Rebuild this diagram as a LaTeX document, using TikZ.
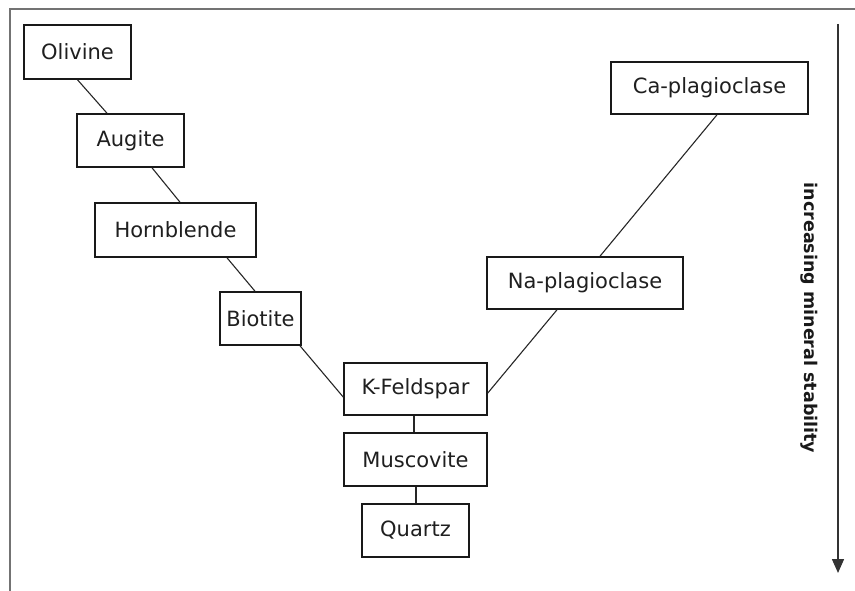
\documentclass[tikz,border=0pt]{standalone}
\usepackage{fontspec}
\setmainfont{DejaVu Sans}
\usetikzlibrary{arrows.meta}
\begin{document}
\begin{tikzpicture}[x=1pt,y=-1pt,
  mbox/.style={draw=black!90, line width=1.6pt, fill=white, inner sep=0pt,
    text=black!88, font=\fontsize{21}{25}\selectfont, anchor=center},
  conn/.style={draw=black!85, line width=1.1pt},
  frame/.style={draw=black!55, line width=2.2pt}]
\useasboundingbox (0,0) rectangle (855,591);
\coordinate (ftl) at (10,9);
\coordinate (ftr) at (855,9);
\coordinate (fbl) at (10,591);
\draw[frame] (ftr) -- (ftl) -- (fbl);

\node[mbox, minimum width=107pt, minimum height=54pt] (olivine) at (77.5,52) {Olivine};
\node[mbox, minimum width=107pt, minimum height=53pt] (augite) at (130.5,140.5) {Augite};
\node[mbox, minimum width=161pt, minimum height=54pt] (hornblende) at (175.5,230) {Hornblende};
\node[mbox, minimum width=81pt, minimum height=53pt] (biotite) at (260.5,318.5) {Biotite};
\node[mbox, minimum width=143pt, minimum height=52pt] (kfeld) at (415.5,389) {K-Feldspar};
\node[mbox, minimum width=143pt, minimum height=53pt] (musc) at (415.5,459.5) {Muscovite};
\node[mbox, minimum width=107pt, minimum height=53pt] (quartz) at (415.5,530.5) {Quartz};
\node[mbox, minimum width=196pt, minimum height=52pt] (naplag) at (585,283) {Na-plagioclase};
\node[mbox, minimum width=197pt, minimum height=52pt] (caplag) at (709.5,88) {Ca-plagioclase};

\draw[conn] (olivine.south) -- ([xshift=-23.5pt]augite.north);
\draw[conn] ([xshift=21.5pt]augite.south) -- ([xshift=4.5pt]hornblende.north);
\draw[conn] ([xshift=51.5pt]hornblende.south) -- ([xshift=-5.5pt]biotite.north);
\draw[conn] ([xshift=39.5pt]biotite.south) -- ([yshift=-8pt]kfeld.west);
\draw[conn] ([xshift=-1.5pt]kfeld.south) -- ([xshift=-1.5pt]musc.north);
\draw[conn] ([xshift=0.5pt]musc.south) -- ([xshift=0.5pt]quartz.north);
\draw[conn] ([xshift=-28pt]naplag.south) -- ([yshift=-4pt]kfeld.east);
\draw[conn] ([xshift=7.5pt]caplag.south) -- ([xshift=15pt]naplag.north);

\coordinate (atop) at (838,24);
\coordinate (abot) at (838,573);
\draw[draw=black!80, line width=1.5pt, -{Triangle[width=12pt,length=14pt]}] (atop) -- (abot);
\node[rotate=-90, font=\bfseries\fontsize{17.5}{20}\selectfont, text=black!90, anchor=center] (lbl) at (809,318) {increasing mineral stability};
\end{tikzpicture}
\end{document}
